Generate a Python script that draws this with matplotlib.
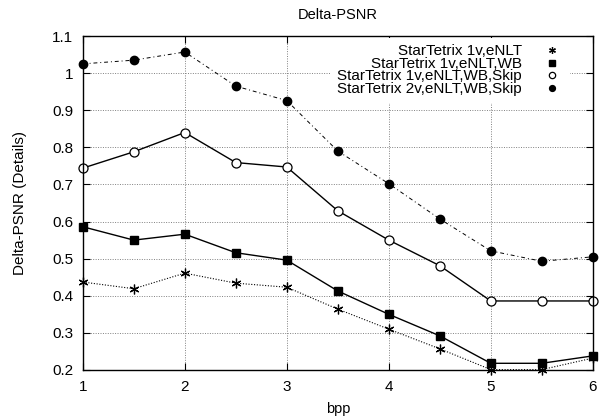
import matplotlib
matplotlib.use("Agg")
import matplotlib.pyplot as plt
from matplotlib.lines import Line2D

plt.rcParams['font.family'] = ['Liberation Sans', 'DejaVu Sans']

bpp = [1, 1.5, 2, 2.5, 3, 3.5, 4, 4.5, 5, 5.5, 6]
labels = ['StarTetrix 1v,eNLT', 'StarTetrix 1v,eNLT,WB',
          'StarTetrix 1v,eNLT,WB,Skip', 'StarTetrix 2v,eNLT,WB,Skip']
enlt = [0.437, 0.419, 0.461, 0.434, 0.423, 0.364, 0.310, 0.257, 0.201, 0.201, 0.232]
enlt_wb = [0.586, 0.550, 0.566, 0.516, 0.496, 0.413, 0.350, 0.292, 0.218, 0.218, 0.238]
enlt_wb_skip = [0.744, 0.788, 0.840, 0.759, 0.747, 0.629, 0.550, 0.481, 0.386, 0.386, 0.386]
enlt_wb_skip_2v = [1.025, 1.035, 1.057, 0.965, 0.926, 0.790, 0.702, 0.607, 0.521, 0.493, 0.505]

fig = plt.figure(figsize=(6, 4.19), dpi=100)
ax = fig.add_axes([0.138, 0.117, 0.85, 0.797])

styles = [
    dict(ls=(0, (1, 1.5)), lw=0.8, marker=(6, 2, 0), ms=7, mew=0.9, mfc='black'),
    dict(ls='-', lw=1.0, marker='s', ms=6, mew=1.0, mfc='black'),
    dict(ls='-', lw=1.0, marker='o', ms=6.5, mew=0.9, mfc='white'),
    dict(ls=(0, (4, 3, 1, 3)), lw=0.7, marker='o', ms=6, mew=1.0, mfc='black'),
]
series = [enlt, enlt_wb, enlt_wb_skip, enlt_wb_skip_2v]

for ys, st in zip(series, styles):
    ax.plot(bpp, ys, color='black', clip_on=False, zorder=3, **st)

ax.set_xlim(1, 6)
ax.set_ylim(0.2, 1.1)
ax.set_xticks([1, 2, 3, 4, 5, 6])
ax.set_yticks([0.2, 0.3, 0.4, 0.5, 0.6, 0.7, 0.8, 0.9, 1.0, 1.1])
ax.set_yticklabels(['0.2', '0.3', '0.4', '0.5', '0.6', '0.7', '0.8', '0.9', '1', '1.1'])
ax.tick_params(direction='in', top=True, right=True, labelsize=11, length=5, pad=7)
ax.grid(True, color='gray', ls=(0, (1, 1.5)), lw=0.7)
for s in ax.spines.values():
    s.set_linewidth(1.0)
    s.set_zorder(4)

ax.set_title('Delta-PSNR', fontsize=10.5, pad=12)
ax.set_xlabel('bpp', fontsize=10.5, labelpad=6)
ax.set_ylabel('Delta-PSNR (Details)', fontsize=11, labelpad=18)

handles = []
for st in styles:
    kw = dict(st)
    kw.pop('ls')
    kw['ms'] = kw['ms'] * 0.7
    handles.append(Line2D([], [], color='black', ls='none', **kw))
leg = ax.legend(handles, labels, loc='upper right', bbox_to_anchor=(0.958, 1.0),
                markerfirst=False, fontsize=11,
                frameon=True, fancybox=False, edgecolor='none', facecolor='white',
                framealpha=1, handlelength=1.5, handletextpad=1.2,
                labelspacing=-0.1, borderaxespad=0.1, borderpad=0.45)
leg.set_zorder(5)
for t in leg.get_texts():
    t.set_ha('right')

fig.savefig('out.png', dpi=100)
